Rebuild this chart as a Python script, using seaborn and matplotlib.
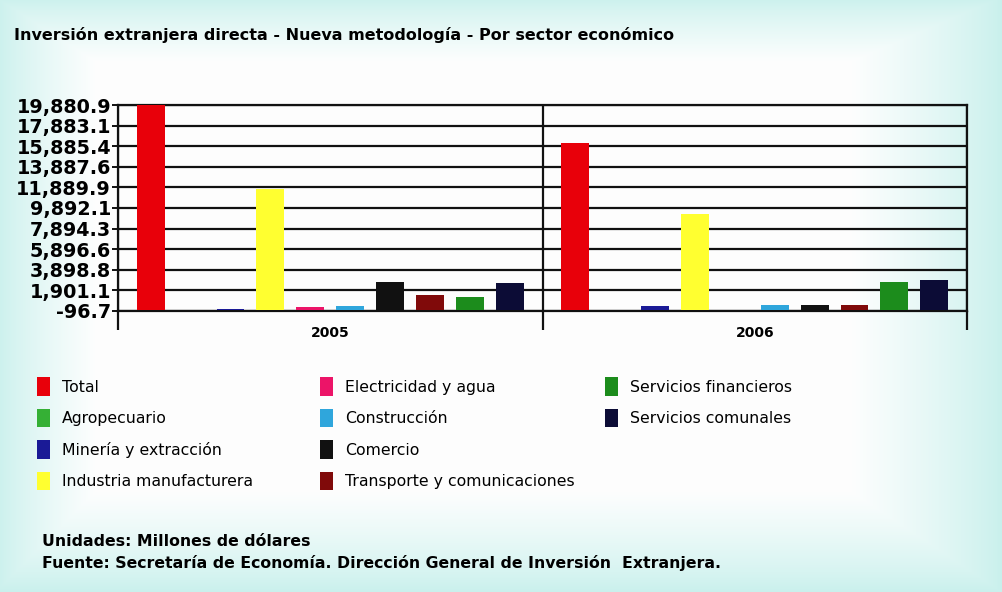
import numpy as np
import pandas as pd
import matplotlib
matplotlib.use("Agg")
import matplotlib.pyplot as plt
import seaborn as sns

# ---- data ----
years = ["2005", "2006"]
sectors = ["Total", "Agropecuario", "Minería y extracción", "Industria manufacturera",
           "Electricidad y agua", "Construcción", "Comercio", "Transporte y comunicaciones",
           "Servicios financieros", "Servicios comunales"]
values_2005 = [19880.9, 20.0, 140.0, 11700.0, 330.0, 400.0, 2700.0, 1450.0, 1300.0, 2600.0]
values_2006 = [16180.0, 15.0, 370.0, 9320.0, 5.0, 500.0, 500.0, 480.0, 2720.0, 2900.0]
colors = ["#e8000a", "#35b035", "#1a1a96", "#ffff30", "#ec1468", "#2fa6dc",
          "#111111", "#800a0a", "#1c8c1c", "#0c0c36"]
y_min, y_max = -96.7, 19880.9

df = pd.DataFrame({
    "year": np.repeat(years, len(sectors)),
    "sector": sectors * 2,
    "value": values_2005 + values_2006,
})

sns.set_theme(style="white")
plt.rcParams["font.family"] = ["DejaVu Sans"]
plt.rcParams["text.color"] = "black"
plt.rcParams["xtick.color"] = "black"
plt.rcParams["ytick.color"] = "black"

fig = plt.figure(figsize=(10.02, 5.92), dpi=100)

# soft aqua background frame
bg = fig.add_axes([0, 0, 1, 1], zorder=-10)
H, W = 592, 1002
yy, xx = np.mgrid[0:H, 0:W]
d = np.minimum.reduce([xx * 0.9 + 5, (W - xx) * 0.6, yy * 1.4 + 5, (H - yy) * 0.9])
t = np.clip(d / 90.0, 0, 1) ** 0.8
aqua = np.array([200, 240, 236]) / 255.0
white = np.array([253, 254, 254]) / 255.0
img = aqua[None, None, :] * (1 - t[..., None]) + white[None, None, :] * t[..., None]
bg.imshow(img, aspect="auto", extent=[0, 1, 0, 1])
bg.axis("off")

ax = fig.add_axes([118 / W, 1 - 311 / H, (967 - 118) / W, (311 - 105) / H])
ax.set_facecolor("none")

sns.barplot(data=df, x="year", y="value", hue="sector", hue_order=sectors,
            order=years, palette=colors, width=0.94, gap=0.3, errorbar=None,
            saturation=1, legend=True, ax=ax, zorder=3, linewidth=0,
            edgecolor="none")

handles = ax.get_legend().legend_handles
labels = [t.get_text() for t in ax.get_legend().get_texts()]
ax.get_legend().remove()

ax.set_xlim(-0.5, 1.5)
ax.set_ylim(y_min, y_max)
ax.set_xlabel("")
ax.set_ylabel("")

yt = np.linspace(y_min, y_max, 11)
ax.set_yticks(yt)
ax.set_yticklabels([f"{v:,.1f}" for v in yt], fontsize=13.8, fontweight="bold")
ax.yaxis.grid(True, color="#111111", linewidth=1.6, zorder=1)
ax.set_axisbelow(True)

ax.set_xticks([-0.5, 0.5, 1.5])
ax.set_xticklabels(["", "", ""])
ax.set_xticks([0, 1], minor=True)
ax.set_xticklabels(years, minor=True, fontsize=10, fontweight="bold")
ax.xaxis.grid(True, which="major", color="#111111", linewidth=1.6)
ax.tick_params(axis="x", which="major", direction="out", length=14, width=1.6,
               color="#111111", bottom=True)
ax.tick_params(axis="x", which="minor", length=0, pad=11, bottom=True)
ax.tick_params(axis="y", direction="out", length=4, width=1.4, color="#111111",
               pad=1, left=True)
for s in ["left", "right", "top", "bottom"]:
    ax.spines[s].set_visible(True)
    ax.spines[s].set_color("#111111")
    ax.spines[s].set_linewidth(1.6)

# title
fig.text(14 / W, 1 - 35 / H, "Inversión extranjera directa - Nueva metodología - Por sector económico",
         fontsize=11.5, fontweight="bold", va="center", ha="left")

# legend: three columns
cols = [(0, 4, 37), (4, 8, 320), (8, 10, 605)]
for a, b, x0 in cols:
    fig.legend(handles[a:b], labels[a:b], loc="upper left",
               bbox_to_anchor=(x0 / W, 1 - 377 / H), frameon=False,
               fontsize=11.3, handlelength=0.85, handleheight=1.45,
               handletextpad=0.75, labelspacing=0.82, borderpad=0,
               borderaxespad=0)

fig.text(42 / W, 1 - 541 / H, "Unidades: Millones de dólares",
         fontsize=11.3, fontweight="bold", va="center", ha="left")
fig.text(42 / W, 1 - 563 / H,
         "Fuente: Secretaría de Economía. Dirección General de Inversión  Extranjera.",
         fontsize=11.3, fontweight="bold", va="center", ha="left")

fig.savefig("out.png", dpi=100)
